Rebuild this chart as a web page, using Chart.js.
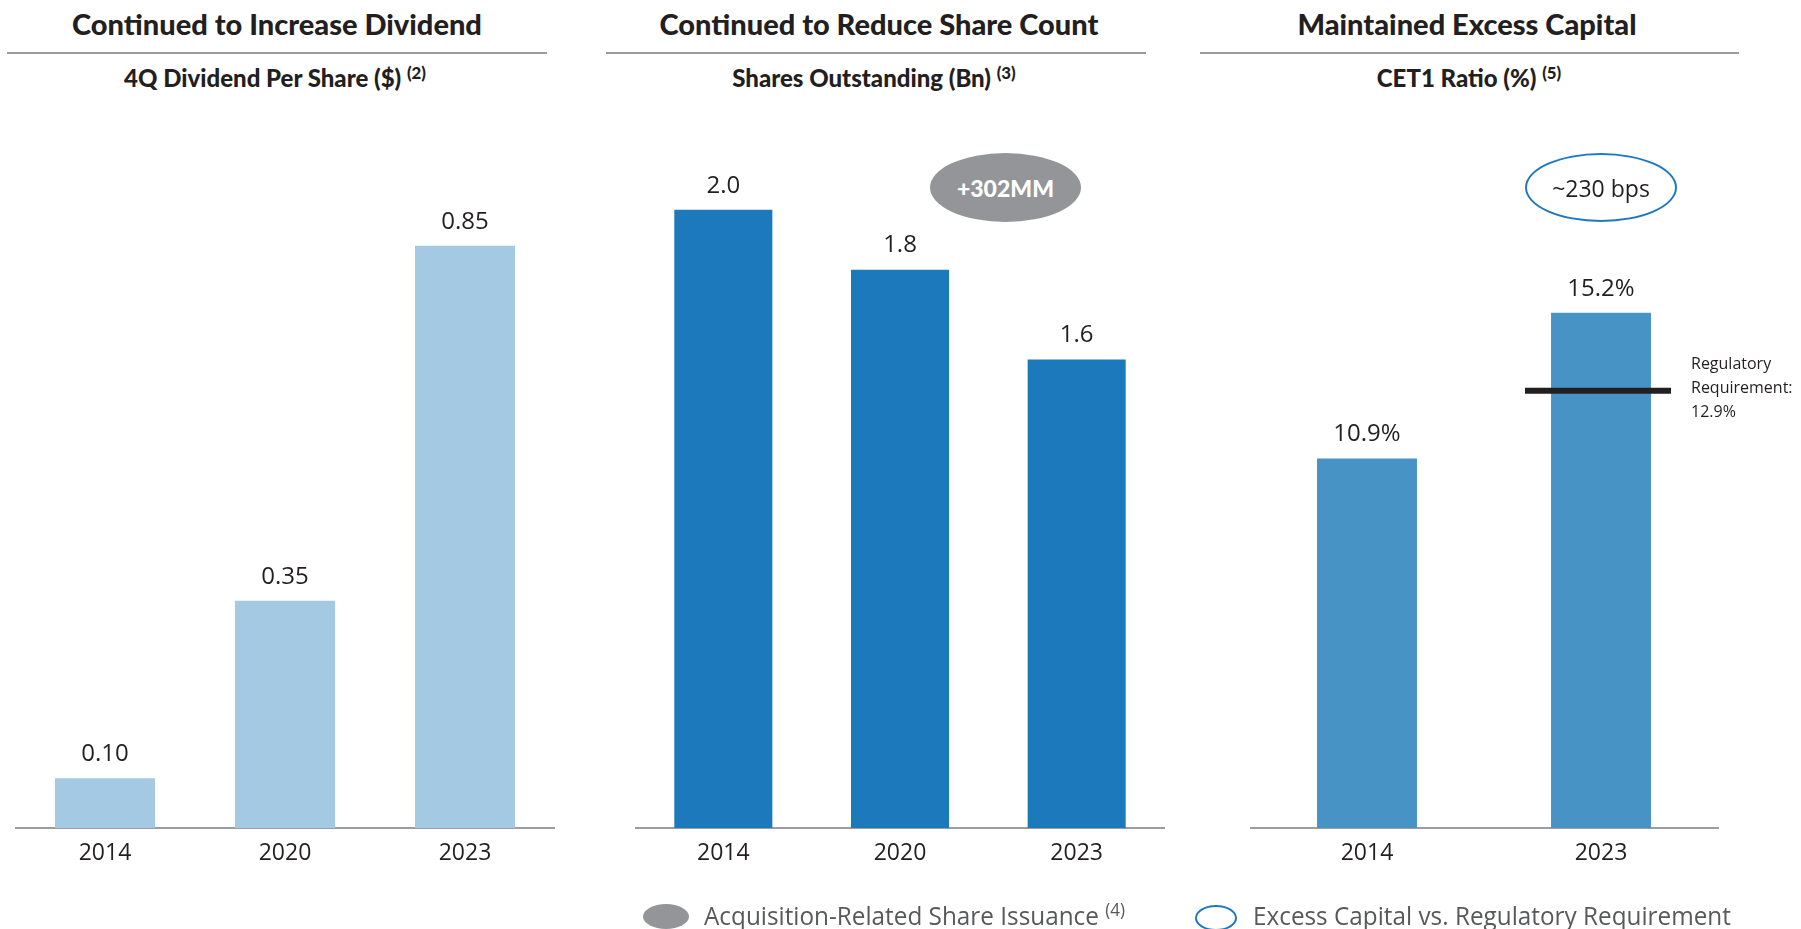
<!DOCTYPE html>
<html lang="en">
<head>
  <meta charset="UTF-8">
  <title>Dividend, Share Count, Excess Capital</title>
  <script src="https://cdn.jsdelivr.net/npm/chart.js"></script>
  <style>
    body {
      margin: 0;
      width: 1801px;
      height: 929px;
      background: #fff;
      position: relative;
      overflow: hidden;
      font-family: 'Open Sans', sans-serif;
      color: #231f20;
    }

    canvas {
      position: absolute;
      top: 0;
    }

    .title {
      position: absolute;
      top: 5px;
      transform: translateX(-50%);
      white-space: nowrap;
      font-family: 'Lato', sans-serif;
      font-weight: 900;
      font-size: 29px;
      line-height: 38px;
    }

    .rule {
      position: absolute;
      top: 52px;
      height: 2px;
      background: #9b9b9d;
    }

    .subtitle {
      position: absolute;
      top: 63px;
      transform: translateX(-50%);
      white-space: nowrap;
      font-family: 'Lato', sans-serif;
      font-weight: 900;
      font-size: 24px;
      line-height: 30px;
    }

    sup {
      font-size: 0.7em;
      vertical-align: 0.5em;
      line-height: 0;
    }

    .bubble {
      position: absolute;
      border-radius: 50%;
      display: flex;
      align-items: center;
      justify-content: center;
      box-sizing: border-box;
      z-index: 2;
    }

    .legend {
      position: absolute;
      top: 897px;
      font-size: 26px;
      line-height: 36px;
      color: #58595b;
      white-space: nowrap;
      transform: scaleX(0.935);
      transform-origin: left center;
    }
  </style>
</head>
<body>
  <div class="title" style="left:277px">Continued to Increase Dividend</div>
  <div class="rule" style="left:7px; width:540px"></div>
  <div class="subtitle" style="left:275px">4Q Dividend Per Share ($) <sup>(2)</sup></div>

  <div class="title" style="left:879px">Continued to Reduce Share Count</div>
  <div class="rule" style="left:606px; width:540px"></div>
  <div class="subtitle" style="left:874px">Shares Outstanding (Bn) <sup>(3)</sup></div>

  <div class="title" style="left:1467px">Maintained Excess Capital</div>
  <div class="rule" style="left:1200px; width:539px"></div>
  <div class="subtitle" style="left:1469px">CET1 Ratio (%) <sup>(5)</sup></div>

  <canvas id="divChart" width="540" height="929" style="left:15px"></canvas>
  <canvas id="shareChart" width="530" height="929" style="left:635px"></canvas>
  <canvas id="capChart" width="551" height="929" style="left:1250px"></canvas>

  <div class="bubble" style="left:930px; top:153px; width:151px; height:69px; background:#939598; color:#fff; font-family:'Lato',sans-serif; font-weight:900; font-size:23px;">+302MM</div>
  <div class="bubble" style="left:1525px; top:153px; width:152px; height:69px; border:2.5px solid #1f78c1; font-size:23px;">~230 bps</div>

  <div class="bubble" style="left:643px; top:904px; width:46px; height:25px; background:#939598;"></div>
  <div class="legend" style="left:704px">Acquisition-Related Share Issuance <sup>(4)</sup></div>
  <div class="bubble" style="left:1195px; top:905px; width:42px; height:26px; border:2px solid #1f78c1;"></div>
  <div class="legend" style="left:1253px">Excess Capital vs. Regulatory Requirement</div>

  <script>
    // data
    const divYears = ['2014', '2020', '2023'];
    const divValues = [0.10, 0.35, 0.85];

    const shareYears = ['2014', '2020', '2023'];
    const shareValues = [2.02, 1.84, 1.57];

    const capYears = ['2014', '2023'];
    const capValues = [10.9, 15.2];
    const regRequirement = 12.9;

    const textColor = '#231f20';

    // value labels above each bar
    function barLabels(format) {
      return {
        id: 'barLabels',
        afterDatasetsDraw(chart) {
          const ctx = chart.ctx;
          const meta = chart.getDatasetMeta(0);
          ctx.save();
          ctx.font = '400 24px "Open Sans"';
          ctx.fillStyle = textColor;
          ctx.textAlign = 'center';
          ctx.textBaseline = 'middle';
          meta.data.forEach((bar, i) => {
            ctx.fillText(format(chart.data.datasets[0].data[i]), bar.x, bar.y - 24);
          });
          ctx.restore();
        }
      };
    }

    const regLine = {
      id: 'regLine',
      afterDatasetsDraw(chart) {
        const ctx = chart.ctx;
        const bar = chart.getDatasetMeta(0).data[1];
        const y = chart.scales.y.getPixelForValue(regRequirement);
        ctx.save();
        ctx.strokeStyle = '#231f20';
        ctx.lineWidth = 6;
        ctx.beginPath();
        ctx.moveTo(bar.x - 76, y);
        ctx.lineTo(bar.x + 70, y);
        ctx.stroke();
        ctx.font = '400 16px "Open Sans"';
        ctx.fillStyle = textColor;
        ctx.textAlign = 'left';
        ctx.textBaseline = 'middle';
        const tx = chart.chartArea.right - 27;
        ctx.fillText('Regulatory', tx, y - 26);
        ctx.fillText('Requirement:', tx, y - 2);
        ctx.fillText(regRequirement.toFixed(1) + '%', tx, y + 22);
        ctx.restore();
      }
    };

    function makeChart(id, labels, values, color, barPct, yMin, yMax, padRight, format, extra) {
      return new Chart(document.getElementById(id), {
        type: 'bar',
        data: {
          labels: labels,
          datasets: [{
            data: values,
            backgroundColor: color,
            borderWidth: 0,
            barPercentage: barPct,
            categoryPercentage: 1
          }]
        },
        options: {
          responsive: false,
          animation: false,
          events: [],
          layout: { padding: { top: 150, bottom: 41, left: 0, right: padRight } },
          plugins: { legend: { display: false }, tooltip: { enabled: false } },
          scales: {
            x: {
              grid: { display: false, drawTicks: false },
              border: { display: true, color: '#9d9d9f', width: 2 },
              ticks: {
                color: textColor,
                font: { family: 'Open Sans', size: 23 },
                padding: 12,
                maxRotation: 0
              },
              afterFit(scale) { scale.height = 60; }
            },
            y: { display: false, min: yMin, max: yMax }
          }
        },
        plugins: [barLabels(format)].concat(extra || [])
      });
    }

    makeChart('divChart', divYears, divValues, '#a3c9e3', 0.556, 0.03, 0.985, 0,
      v => v.toFixed(2));
    makeChart('shareChart', shareYears, shareValues, '#1b79bc', 0.555, 0.16, 2.2, 0,
      v => v.toFixed(1));
    makeChart('capChart', capYears, capValues, '#4893c6', 0.427, 0, 20, 83,
      v => v.toFixed(1) + '%', [regLine]);
  </script>
</body>
</html>
